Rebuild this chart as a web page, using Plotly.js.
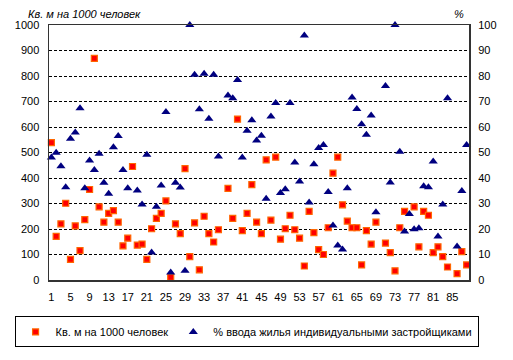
<!DOCTYPE html>
<html>
<head>
<meta charset="utf-8">
<script src="https://cdn.plot.ly/plotly-3.0.1.min.js"></script>
<style>
html,body{margin:0;padding:0;background:#fff;}
#chart{width:513px;height:360px;}
</style>
</head>
<body>
<div id="chart"></div>
<script>
// category index (regions 1..88)
const regions = Array.from({length: 88}, (_, i) => i + 1);

// Кв. м на 1000 человек (left axis)
const sqmPer1000 = [
  539, 171, 220, 301, 81, 212, 115, 237, 355, 869,
  287, 227, 261, 272, 227, 134, 164, 445, 137, 141,
  81, 201, 242, 261, 310, 10, 220, 182, 437, 92,
  224, 40, 250, 182, 149, 197, null, 359, 242, 631,
  194, 261, 374, 227, 182, 471, 235, 482, 160, 201,
  254, 197, 164, 55, 269, 186, 119, 100, 205, 419,
  482, 295, 231, 205, 205, 59, 194, 141, 227, null,
  145, 107, 36, 205, 269, null, 287, 130, 269, 254,
  107, 130, 92, 51, null, 25, 111, 59
];

// % ввода жилья индивидуальными застройщиками (right axis)
const individualShare = [
  48, 49.9, 44.6, 36.4, 55.4, 57.8, 67.4, 36, 46.9, 43.1,
  49.5, 38.1, 33.8, 52.1, 56.5, 43.1, 36, null, 35.1, 29.6,
  49.1, 10.75, 28.75, 37.1, 65.9, 2.9, 38.1, 36.25, 3.6, 100,
  80.5, 67, 80.9, 63.25, 80.5, 48.4, null, 72.4, 71.25, 78.4,
  48, 58.5, 62.6, 54.75, 56.6, 31.9, 64.1, 69.4, 34.1, 35.6,
  69.4, 46.1, 38.6, 95.9, 30.4, 45.4, 51.75, 52.9, 34.5, 21.4,
  13.5, 12, 36, 71.6, 67.1, 61.1, 57, 64.5, 26.6, null,
  76.1, 38.25, 100, 50.25, 19, 25.9, 19.9, 20.25, 36.75, 36.4,
  46.5, 17.1, 29.6, 71.25, null, 13.1, 34.9, 52.9
];

const xTickVals = [1, 5, 9, 13, 17, 21, 25, 29, 33, 37, 41, 45, 49, 53, 57, 61, 65, 69, 73, 77, 81, 85];
const leftTicks = [0, 100, 200, 300, 400, 500, 600, 700, 800, 900, 1000];
const rightTicks = [0, 10, 20, 30, 40, 50, 60, 70, 80, 90, 100];

const seriesNames = ['Кв. м на 1000 человек', '% ввода жилья индивидуальными застройщиками'];
const leftTitle = 'Кв. м на 1000 человек';
const rightTitle = '%';

const FONT = 'Liberation Sans, Arial, sans-serif';

const traces = [
  {
    x: regions, y: sqmPer1000, name: seriesNames[0],
    type: 'scatter', mode: 'markers', yaxis: 'y', cliponaxis: false,
    marker: {symbol: 'square', size: 6, color: '#FF0000', line: {color: '#FF6600', width: 1.2}}
  },
  {
    x: regions, y: individualShare, name: seriesNames[1],
    type: 'scatter', mode: 'markers', yaxis: 'y2', cliponaxis: false,
    marker: {symbol: 'triangle-up', size: 8, color: '#000080', line: {color: '#000080', width: 0}}
  }
];

const layout = {
  width: 513, height: 360,
  margin: {l: 49, r: 44, t: 25, b: 68},
  paper_bgcolor: '#fff', plot_bgcolor: '#fff',
  font: {family: FONT, size: 11, color: '#000'},
  showlegend: true,
  legend: {
    orientation: 'h', x: -0.082, xanchor: 'left', y: -0.143, yanchor: 'top',
    bordercolor: '#000', borderwidth: 1, font: {family: FONT, size: 11, color: '#000'},
    itemwidth: 30, tracegroupgap: 0
  },
  xaxis: {
    range: [0.5, 88.5], tickmode: 'array', tickvals: xTickVals, ticktext: xTickVals.map(String),
    showgrid: false, zeroline: false, showline: true, linecolor: '#333', linewidth: 1.5,
    mirror: true, ticks: 'outside', ticklen: 6, tickcolor: 'rgba(0,0,0,0)',
    tickfont: {family: FONT, size: 11, color: '#000'}
  },
  yaxis: {
    range: [0, 1000], tickmode: 'array', tickvals: leftTicks,
    showgrid: true, gridcolor: '#000', gridwidth: 1, griddash: '3px,2px',
    zeroline: false, showline: true, linecolor: '#333', linewidth: 1.5, mirror: true,
    ticks: 'outside', ticklen: 6, tickcolor: 'rgba(0,0,0,0)',
    tickfont: {family: FONT, size: 11, color: '#000'}
  },
  yaxis2: {
    range: [0, 100], tickmode: 'array', tickvals: rightTicks, overlaying: 'y', side: 'right',
    showgrid: false, zeroline: false, showline: false,
    ticks: 'outside', ticklen: 6, tickcolor: 'rgba(0,0,0,0)',
    tickfont: {family: FONT, size: 11, color: '#000'}
  },
  annotations: [
    {text: leftTitle, xref: 'paper', yref: 'paper', x: 0.085, y: 1.0, xanchor: 'center', yanchor: 'bottom',
     yshift: 3, showarrow: false, font: {family: FONT, size: 11, color: '#000', style: 'italic'}},
    {text: rightTitle, xref: 'paper', yref: 'paper', x: 0.975, y: 1.0, xanchor: 'center', yanchor: 'bottom',
     yshift: 3, showarrow: false, font: {family: FONT, size: 11, color: '#000', style: 'italic'}}
  ]
};

Plotly.newPlot('chart', traces, layout, {displayModeBar: false, staticPlot: true});
</script>
</body>
</html>
